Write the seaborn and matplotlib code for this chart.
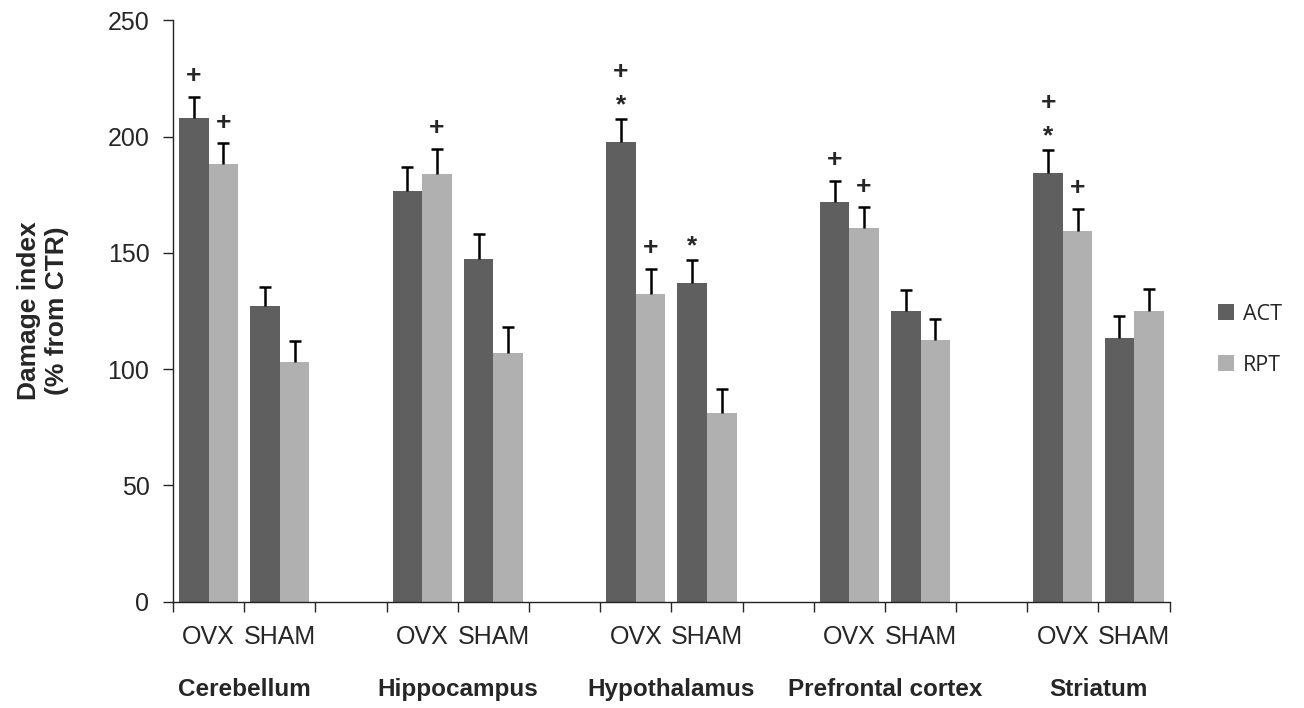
import numpy as np
import pandas as pd
import matplotlib
matplotlib.use('Agg')
import matplotlib.pyplot as plt
from matplotlib.patches import Patch
import seaborn as sns

# Data
regions = ['Cerebellum', 'Hippocampus', 'Hypothalamus', 'Prefrontal cortex', 'Striatum']
groups = ['OVX', 'SHAM']
series = ['ACT', 'RPT']

act_ovx = [208, 176.5, 197.5, 172, 184.5]
rpt_ovx = [188, 184, 132.5, 160.5, 159.5]
act_sham = [127, 147.5, 137, 125, 113.5]
rpt_sham = [103, 107, 81, 112.5, 125]

err_act_ovx = [9, 10.5, 10, 9, 9.5]
err_rpt_ovx = [9, 10.5, 10.5, 9, 9.5]
err_act_sham = [8.5, 10.5, 10, 9, 9.5]
err_rpt_sham = [9, 11, 10.5, 9, 9.5]

# significance marks, listed from bottom to top
marks_act_ovx = ['+', '', '*+', '+', '*+']
marks_rpt_ovx = ['+', '+', '+', '+', '+']
marks_act_sham = ['', '', '*', '', '']
marks_rpt_sham = ['', '', '', '', '']

colors = ['#5f5f5f', '#b0b0b0']

# Build long table
rows = []
for i, r in enumerate(regions):
    for g, s, v, e, m in [
        ('OVX', 'ACT', act_ovx[i], err_act_ovx[i], marks_act_ovx[i]),
        ('OVX', 'RPT', rpt_ovx[i], err_rpt_ovx[i], marks_rpt_ovx[i]),
        ('SHAM', 'ACT', act_sham[i], err_act_sham[i], marks_act_sham[i]),
        ('SHAM', 'RPT', rpt_sham[i], err_rpt_sham[i], marks_rpt_sham[i]),
    ]:
        rows.append({'region': r, 'group': g, 'slot': f'{r}|{g}',
                     'series': s, 'value': v, 'err': e, 'marks': m})
df = pd.DataFrame(rows)

# slot order with an empty slot between regions
order = []
for i, r in enumerate(regions):
    order += [f'{r}|OVX', f'{r}|SHAM']
    if i < len(regions) - 1:
        order.append(f'gap{i}')

sns.set_style('ticks')
plt.rcParams['font.family'] = ['Liberation Sans', 'DejaVu Sans']

fig = plt.figure(figsize=(13.04, 7.08), dpi=100)
ax = fig.add_axes([0.1327, 0.150, 0.897 - 0.1327, 0.9715 - 0.150])

width = 0.83
sns.barplot(data=df, x='slot', y='value', hue='series', order=order,
            hue_order=series, palette=colors, width=width, saturation=1,
            errorbar=None, legend=False, linewidth=0, ax=ax)

# error bars (upper only) and marks
for _, row in df.iterrows():
    x = order.index(row['slot']) + (-width / 4 if row['series'] == 'ACT' else width / 4)
    _, caps, _ = ax.errorbar(x, row['value'], yerr=[[0], [row['err']]], fmt='none',
                             ecolor='black', elinewidth=1.8, capsize=4.5, capthick=1.8)
    for cap in caps:
        if np.allclose(cap.get_ydata(), row['value']):
            cap.set_visible(False)
    top = row['value'] + row['err']
    for j, m in enumerate(row['marks']):
        off = 15 + 19 * j
        if m == '*':
            off -= 5
        ax.annotate(m, (x, top), xytext=(0, off), textcoords='offset points',
                    ha='center', va='center', fontsize=19, fontweight='bold')

ax.set_ylim(0, 250)
ax.set_yticks(range(0, 251, 50))
ax.set_xlim(-0.5, len(order) - 0.5)

ax.set_xticks(np.arange(-0.5, len(order), 1))
ax.set_xticklabels([])
ax.set_xticks(range(len(order)), minor=True)
ax.set_xticklabels([s.split('|')[1] if '|' in s else '' for s in order], minor=True)
ax.tick_params(axis='x', which='major', length=7, width=1, direction='out')
ax.tick_params(axis='x', which='minor', length=0, pad=17, labelsize=18)
ax.tick_params(axis='y', length=7, width=1, pad=10, labelsize=18)

for r in regions:
    c = order.index(f'{r}|OVX') + 0.5
    ax.annotate(r, xy=(c, 0), xycoords=('data', 'axes fraction'),
                xytext=(0, -63), textcoords='offset points',
                ha='center', va='center', fontsize=17.5, fontweight='bold')

ax.set_xlabel('')
ax.set_ylabel('Damage index\n(% from CTR)', fontsize=19, fontweight='bold',
              labelpad=28, linespacing=1.2)

sns.despine(ax=ax)
for sp in ['left', 'bottom']:
    ax.spines[sp].set_color('#222222')
    ax.spines[sp].set_linewidth(1)

handles = [Patch(facecolor=c, edgecolor='none') for c in colors]
fig.legend(handles, series, loc='upper left', bbox_to_anchor=(0.934, 0.571),
           frameon=False, prop={'family': 'Open Sans', 'size': 15.5},
           handlelength=0.75, handleheight=0.75, handletextpad=0.4,
           labelspacing=1.4, borderpad=0, borderaxespad=0)

fig.savefig('out.png', dpi=100)
